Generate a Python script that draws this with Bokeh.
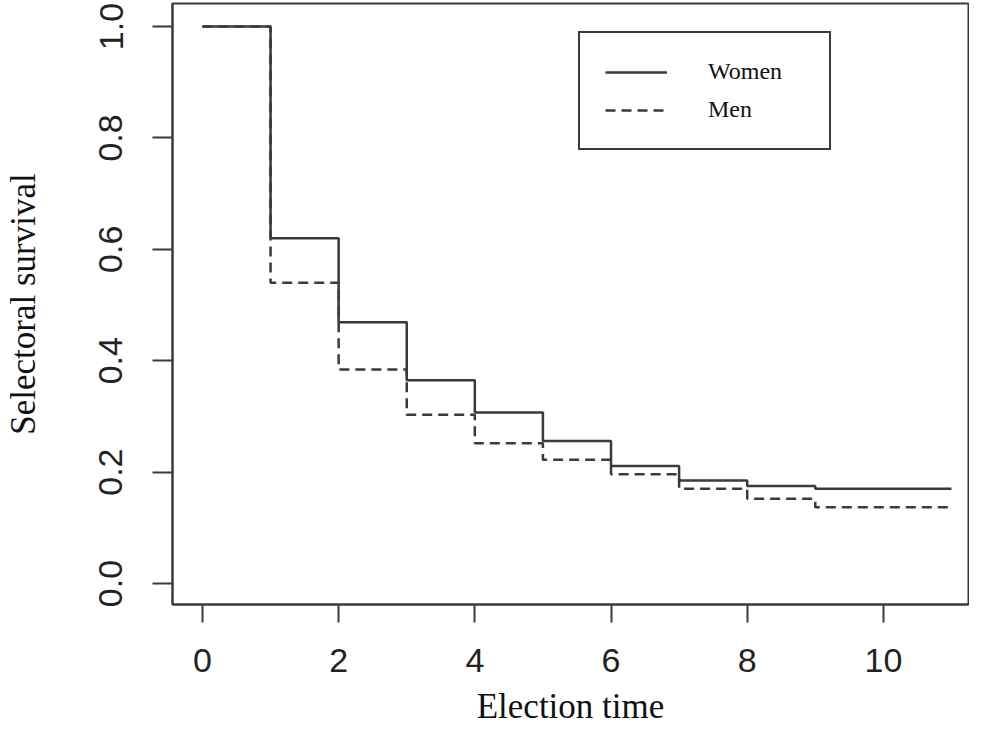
from bokeh.plotting import figure
from bokeh.models import Range1d, FixedTicker, Legend, LegendItem
from bokeh.embed import file_html
from bokeh.resources import INLINE

# Data
times = [0, 1, 2, 3, 4, 5, 6, 7, 8, 9, 10, 11]
women = [1.0, 0.62, 0.469, 0.365, 0.307, 0.256, 0.211, 0.185, 0.175, 0.170, 0.170, 0.170]
men = [1.0, 0.54, 0.384, 0.303, 0.252, 0.222, 0.196, 0.170, 0.152, 0.137, 0.137, 0.137]
x_ticks = [0, 2, 4, 6, 8, 10]
y_ticks = [0.0, 0.2, 0.4, 0.6, 0.8, 1.0]
y_tick_labels = ["0.0", "0.2", "0.4", "0.6", "0.8", "1.0"]
series_labels = ["Women", "Men"]

INK = "#3a3a3a"

p = figure(width=969, height=728,
           x_range=Range1d(-0.44, 11.25), y_range=Range1d(-0.0377, 1.0413),
           output_backend="svg", toolbar_location=None,
           min_border_left=172, min_border_right=1, min_border_top=3,
           min_border_bottom=124)

p.grid.visible = False
p.outline_line_color = INK
p.outline_line_width = 2
p.background_fill_color = "white"
p.border_fill_color = "white"

r1 = p.step(times, women, mode="after", line_color=INK, line_width=2.5)
r2 = p.step(times, men, mode="after", line_color=INK, line_width=2.5,
            line_dash="10 6")

for ax in (p.xaxis[0], p.yaxis[0]):
    ax.axis_line_color = INK
    ax.axis_line_width = 2
    ax.major_tick_line_color = INK
    ax.major_tick_line_width = 2
    ax.major_tick_in = 0
    ax.minor_tick_line_color = None
    ax.major_label_text_font = "Liberation Sans"
    ax.major_label_text_font_size = "34px"
    ax.major_label_text_color = "#222222"
    ax.axis_label_text_font = "Liberation Serif"
    ax.axis_label_text_font_size = "35px"
    ax.axis_label_text_font_style = "normal"
    ax.axis_label_text_color = "#111111"

p.xaxis.ticker = FixedTicker(ticks=x_ticks)
p.xaxis.major_tick_out = 18
p.xaxis.major_label_standoff = 26
p.xaxis.axis_label = "Election time"
p.xaxis.axis_label_standoff = 12

p.yaxis.ticker = FixedTicker(ticks=y_ticks)
p.yaxis.major_label_overrides = {t: s for t, s in zip(y_ticks, y_tick_labels)}
p.yaxis.major_label_orientation = "vertical"
p.yaxis.major_tick_out = 20
p.yaxis.major_label_standoff = 30
p.yaxis.axis_label = "Selectoral survival"
p.yaxis.axis_label_standoff = 54

legend = Legend(items=[LegendItem(label=series_labels[0], renderers=[r1]),
                       LegendItem(label=series_labels[1], renderers=[r2])],
                location=(406, 454), margin=0,
                border_line_color=INK, border_line_width=2,
                border_line_alpha=1,
                background_fill_color="white", background_fill_alpha=1,
                padding=25, spacing=11,
                glyph_width=62, glyph_height=22,
                label_height=22, label_width=96, label_standoff=41,
                label_text_font="Liberation Serif",
                label_text_font_size="24px", label_text_color="#111111")
p.add_layout(legend)

open("out.html", "w").write(file_html(p, INLINE))
